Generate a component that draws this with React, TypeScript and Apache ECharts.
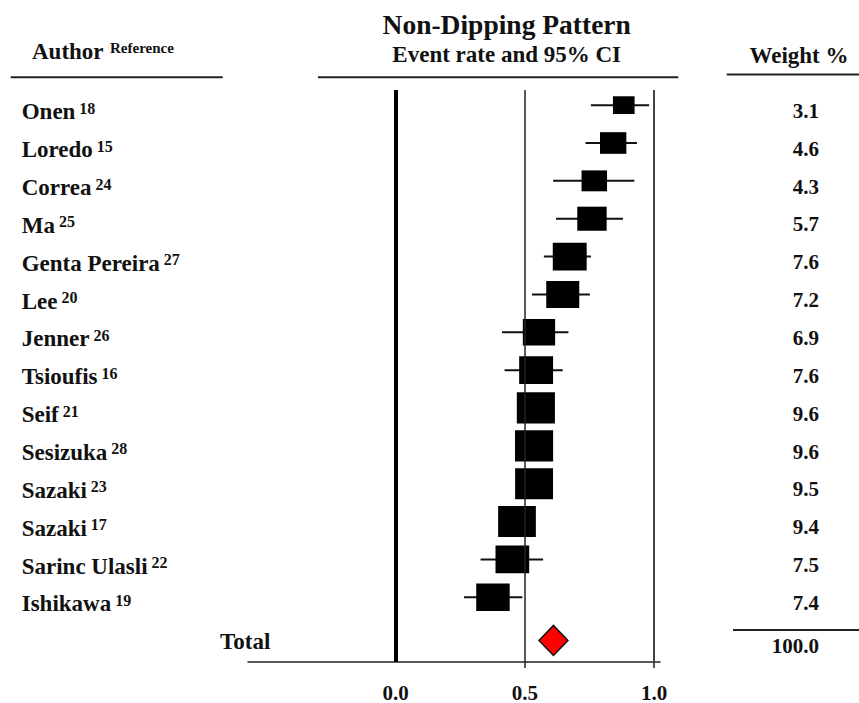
import React, { useEffect, useRef } from "react";
import * as echarts from "echarts";

const authors = ["Onen", "Loredo", "Correa", "Ma", "Genta Pereira", "Lee", "Jenner", "Tsioufis", "Seif", "Sesizuka", "Sazaki", "Sazaki", "Sarinc Ulasli", "Ishikawa"];
const refs = ["18", "15", "24", "25", "27", "20", "26", "16", "21", "28", "23", "17", "22", "19"];
const eventRate = [0.883, 0.842, 0.769, 0.760, 0.674, 0.647, 0.555, 0.544, 0.543, 0.536, 0.536, 0.470, 0.452, 0.377];
const lowerCI = [0.756, 0.735, 0.610, 0.621, 0.574, 0.528, 0.412, 0.422, 0.48, 0.48, 0.48, 0.41, 0.329, 0.265];
const upperCI = [0.981, 0.934, 0.924, 0.880, 0.756, 0.752, 0.669, 0.647, 0.60, 0.59, 0.59, 0.53, 0.571, 0.491];
const weights = [3.1, 4.6, 4.3, 5.7, 7.6, 7.2, 6.9, 7.6, 9.6, 9.6, 9.5, 9.4, 7.5, 7.4];
const totalRate = 0.611;
const totalLower = 0.555;
const totalUpper = 0.667;
const totalWeight = 100.0;
const xTickValues = [0, 0.5, 1];

const FONT = '"Liberation Serif", "Times New Roman", serif';
const TOTAL_ROW = 14.14;
const Y_MIN = -0.4;
const Y_MAX = 14.71;
const WEIGHT_SHIFT = 0.15;
const AUTHOR_SHIFT = 0.07;

export default function App() {
  const ref = useRef<HTMLDivElement>(null);
  useEffect(() => {
    document.body.style.margin = "0";
    const chart = echarts.init(ref.current!, null, { renderer: "svg" });
    const rows = authors.map((_, i) => i);
    const studyData = authors.map((_, i) => [eventRate[i], i, lowerCI[i], upperCI[i], weights[i]]);

    const option: any = {
      animation: false,
      backgroundColor: "#ffffff",
      textStyle: { fontFamily: FONT },
      grid: { left: 248, right: 199, top: 90, bottom: 35.3 },
      xAxis: [
        {
          type: "value",
          min: -0.5706,
          max: 1.0232,
          splitLine: { show: false },
          axisLine: { show: true, onZero: false, lineStyle: { color: "#222", width: 1.5 } },
          axisTick: { show: true, customValues: [0.5, 1], length: 6, lineStyle: { color: "#222", width: 1.5 } },
          axisLabel: {
            show: true,
            customValues: xTickValues,
            formatter: (v: number) => v.toFixed(1),
            margin: 20,
            fontFamily: FONT,
            fontWeight: "bold",
            fontSize: 21,
            color: "#111",
          },
        },
        {
          type: "value",
          min: -0.5706,
          max: 1.0232,
          position: "bottom",
          splitLine: { show: false },
          axisLine: { show: false },
          axisTick: { show: true, customValues: [0], length: 6, lineStyle: { color: "#000", width: 4 } },
          axisLabel: { show: false },
        },
      ],
      yAxis: [
        {
          type: "value",
          inverse: true,
          min: Y_MIN - AUTHOR_SHIFT,
          max: Y_MAX - AUTHOR_SHIFT,
          splitLine: { show: false },
          axisLine: { show: false },
          axisTick: { show: false },
          axisLabel: {
            show: true,
            customValues: rows,
            align: "left",
            margin: 226.3,
            padding: [8, 0, 0, 0],
            formatter: (v: number) => {
              const i = Math.round(v);
              return `{n|${authors[i]}}{s| ${refs[i]}}`;
            },
            rich: {
              n: { fontFamily: FONT, fontWeight: "bold", fontSize: 23, color: "#111" },
              s: { fontFamily: FONT, fontWeight: "bold", fontSize: 16, color: "#111", verticalAlign: "top" },
            },
          },
        },
        {
          type: "value",
          inverse: true,
          position: "right",
          min: Y_MIN - WEIGHT_SHIFT,
          max: Y_MAX - WEIGHT_SHIFT,
          splitLine: { show: false },
          axisLine: { show: false },
          axisTick: { show: false },
          axisLabel: {
            show: true,
            customValues: [...rows, TOTAL_ROW],
            align: "right",
            margin: 159,
            fontFamily: FONT,
            fontWeight: "bold",
            fontSize: 21,
            color: "#111",
            formatter: (v: number) => {
              const i = Math.round(v);
              return i < weights.length ? weights[i].toFixed(1) : totalWeight.toFixed(1);
            },
          },
        },
        {
          type: "value",
          inverse: true,
          min: Y_MIN,
          max: Y_MAX,
          show: false,
        },
      ],
      graphic: [
        { type: "text", x: 506.7, y: 24.2, style: { text: "Non-Dipping Pattern", fontFamily: FONT, fontWeight: "bold", fontSize: 27.5, fill: "#111", align: "center", verticalAlign: "middle" } },
        { type: "text", x: 506.7, y: 54.7, style: { text: "Event rate and 95% CI", fontFamily: FONT, fontWeight: "bold", fontSize: 23, fill: "#111", align: "center", verticalAlign: "middle" } },
        { type: "text", x: 32, y: 51.3, style: { text: "Author", fontFamily: FONT, fontWeight: "bold", fontSize: 23, fill: "#111", align: "left", verticalAlign: "middle" } },
        { type: "text", x: 110, y: 47.5, style: { text: "Reference", fontFamily: FONT, fontWeight: "bold", fontSize: 15, fill: "#111", align: "left", verticalAlign: "middle" } },
        { type: "text", x: 799, y: 55, style: { text: "Weight %", fontFamily: FONT, fontWeight: "bold", fontSize: 23, fill: "#111", align: "center", verticalAlign: "middle" } },
        { type: "text", x: 220, y: 641.7, style: { text: "Total", fontFamily: FONT, fontWeight: "bold", fontSize: 23, fill: "#111", align: "left", verticalAlign: "middle" } },
        { type: "line", shape: { x1: 10.7, y1: 77.3, x2: 222.7, y2: 77.3 }, style: { stroke: "#222", lineWidth: 2 } },
        { type: "line", shape: { x1: 318, y1: 77.3, x2: 678.3, y2: 77.3 }, style: { stroke: "#222", lineWidth: 2 } },
        { type: "line", shape: { x1: 726.7, y1: 74.5, x2: 859, y2: 74.5 }, style: { stroke: "#222", lineWidth: 2 } },
        { type: "line", shape: { x1: 733, y1: 630, x2: 859, y2: 630 }, style: { stroke: "#222", lineWidth: 2 } },
      ],
      series: [
        {
          type: "scatter",
          data: [],
          yAxisIndex: 2,
          z: 1,
          markLine: {
            silent: true,
            symbol: ["none", "none"],
            label: { show: false },
            data: [
              { xAxis: xTickValues[0], lineStyle: { type: "solid", color: "#000", width: 4 } },
              { xAxis: xTickValues[1], lineStyle: { type: "solid", color: "#222", width: 1.5 } },
              { xAxis: xTickValues[2], lineStyle: { type: "solid", color: "#444", width: 2 } },
            ],
          },
        },
        {
          type: "custom",
          yAxisIndex: 2,
          z: 3,
          data: studyData,
          renderItem: (params: any, api: any) => {
            const est = api.value(0);
            const row = api.value(1);
            const lo = api.value(2);
            const hi = api.value(3);
            const w = api.value(4);
            const c = api.coord([est, row]);
            const l = api.coord([lo, row]);
            const h = api.coord([hi, row]);
            const bw = 12.3 * Math.sqrt(w);
            const bh = bw * 0.82;
            return {
              type: "group",
              children: [
                { type: "line", shape: { x1: l[0], y1: l[1], x2: h[0], y2: h[1] }, style: { stroke: "#111", lineWidth: 2 } },
                { type: "rect", shape: { x: c[0] - bw / 2, y: c[1] - bh / 2, width: bw, height: bh }, style: { fill: "#000" } },
              ],
            };
          },
        },
        {
          type: "custom",
          yAxisIndex: 2,
          z: 3,
          data: [[totalRate, TOTAL_ROW, totalLower, totalUpper]],
          renderItem: (params: any, api: any) => {
            const c = api.coord([api.value(0), api.value(1)]);
            const l = api.coord([api.value(2), api.value(1)]);
            const h = api.coord([api.value(3), api.value(1)]);
            const hh = 15;
            return {
              type: "polygon",
              shape: { points: [[l[0], l[1]], [c[0], c[1] - hh], [h[0], h[1]], [c[0], c[1] + hh]] },
              style: { fill: "#ff0000", stroke: "#111", lineWidth: 1.5 },
            };
          },
        },
      ],
    };
    chart.setOption(option);
    return () => chart.dispose();
  }, []);
  return <div ref={ref} style={{ width: 859, height: 703 }} />;
}
